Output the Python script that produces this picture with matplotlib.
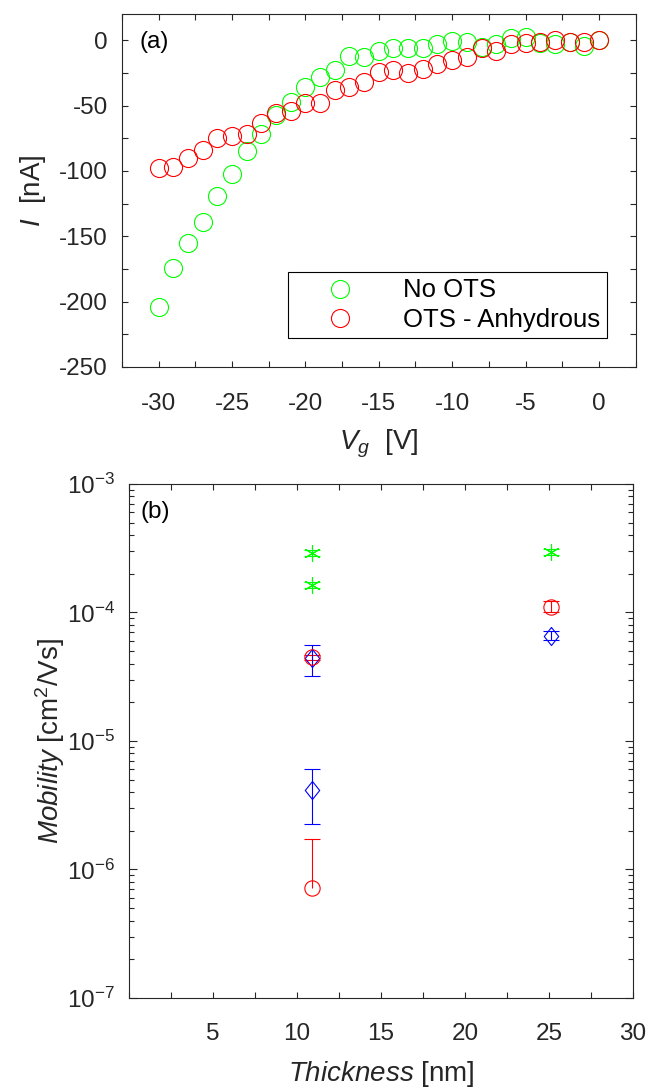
import numpy as np
import matplotlib.pyplot as plt
from matplotlib.ticker import MultipleLocator, FuncFormatter, LogLocator, NullFormatter

plt.rcParams['font.family'] = ['Liberation Sans', 'DejaVu Sans']
plt.rcParams['mathtext.fontset'] = 'custom'
plt.rcParams['mathtext.rm'] = 'Liberation Sans'
plt.rcParams['mathtext.it'] = 'Liberation Sans:italic'
plt.rcParams['axes.unicode_minus'] = False

# ---- data, panel (a) ----
vg = np.arange(-30, 1, 1)
i_no_ots = [-204, -174, -155, -139, -119, -102, -85, -72, -57, -47, -36, -28, -23, -12, -13,
            -8, -6, -6, -6, -3, -0.5, -1, -5, -2.5, 2, 2.5, -2, -2.5, -1, -4, 0]
i_ots_anh = [-98, -97, -90, -84, -75, -73, -72, -63, -56, -54, -48, -48, -38, -36, -32,
             -24, -23, -25, -22, -18, -15, -13, -6, -8, -3, -2, -1, 0.5, -1, -1, 0]

# ---- data, panel (b) ----
thick_green = [10.9, 10.9, 25.1]
mob_green = [2.89e-4, 1.64e-4, 2.94e-4]
err_green = [1.5e-5, 1.0e-5, 1.5e-5]

thick_red = [10.9, 10.9, 25.1]
mob_red = [4.48e-5, 7.15e-7, 1.11e-4]
err_red_lo = [2e-6, 0, 1.1e-5]
err_red_hi = [2e-6, 1.0e-6, 1.1e-5]

thick_blue = [10.9, 10.9, 25.1]
mob_blue = [4.4e-5, 4.16e-6, 6.6e-5]
err_blue = [1.2e-5, 1.9e-6, 5.5e-6]

grey = '#262626'
fs = 17.5     # tick labels
lfs = 20      # axis labels

fig = plt.figure(figsize=(6.48, 10.89), dpi=100)

# ---------------- panel (a) ----------------
ax1 = fig.add_axes([0.188, 0.663, 0.793, 0.324])
ax1.plot(vg, i_no_ots, 'o', mfc='none', mec='#00ff00', ms=13, mew=0.8, label='No OTS')
ax1.plot(vg, i_ots_anh, 'o', mfc='none', mec='#ff0000', ms=13, mew=0.8, label='OTS - Anhydrous')
ax1.set_xlim(-32.5, 2.5)
ax1.set_ylim(-250, 20)
ax1.xaxis.set_major_locator(MultipleLocator(2.5))
ax1.yaxis.set_major_locator(MultipleLocator(25))
ax1.xaxis.set_major_formatter(FuncFormatter(lambda v, p: '%d' % v if abs(v % 5) < 1e-6 else ''))
ax1.yaxis.set_major_formatter(FuncFormatter(lambda v, p: '%d' % v if abs(v % 50) < 1e-6 else ''))
ax1.tick_params(direction='in', length=4, width=0.8, top=True, right=True,
                labelsize=fs, colors=grey, pad=10)
ax1.tick_params(axis='x', pad=19)
ax1.set_xlabel(r'$V_g$  [V]', fontsize=lfs, color=grey, labelpad=9)
ax1.set_ylabel(r'$I$  [nA]', fontsize=lfs, color=grey, labelpad=8)
for s in ax1.spines.values():
    s.set_color(grey)
    s.set_linewidth(0.8)
ax1.text(0.035, 0.92, '(a)', transform=ax1.transAxes, fontsize=fs, va='center', ha='left')
leg = ax1.legend(loc='lower right', bbox_to_anchor=(0.9436, 0.082), borderaxespad=0,
                 fontsize=18.5, handlelength=3.6, handletextpad=0.65, labelspacing=0.2,
                 fancybox=False, framealpha=1, edgecolor='black', borderpad=0.25)
leg.get_frame().set_linewidth(0.8)

# ---------------- panel (b) ----------------
ax2 = fig.add_axes([0.199, 0.0836, 0.778, 0.472])
ax2.set_yscale('log')
ax2.errorbar(thick_green, mob_green, yerr=err_green, fmt='none', ecolor='#00ff00',
             elinewidth=0.8, capsize=6, capthick=0.8)
ax2.plot(thick_green, mob_green, ls='none', marker=(6, 2, 0), ms=12, mec='#00ff00', mew=0.8)

eb = ax2.errorbar(thick_red, mob_red, yerr=[err_red_lo, err_red_hi], fmt='o', mfc='none',
                  mec='#ff0000', ms=11, mew=0.8, ecolor='#ff0000', elinewidth=0.8,
                  capsize=6, capthick=0.8)
# hide the lower cap where there is no lower error
lo_cap = eb[1][0]
yd = np.array(lo_cap.get_ydata(), dtype=float)
yd[np.array(err_red_lo) == 0] = np.nan
lo_cap.set_ydata(yd)

diamond = [(0, 1), (0.8, 0), (0, -1), (-0.8, 0), (0, 1)]
ax2.errorbar(thick_blue, mob_blue, yerr=err_blue, fmt='none', ecolor='#0000ff',
             elinewidth=0.8, capsize=6, capthick=0.8)
ax2.plot(thick_blue, mob_blue, ls='none', marker=diamond, mfc='none', mec='#0000ff',
         ms=13, mew=0.8)

ax2.set_xlim(0, 30)
ax2.set_ylim(1e-7, 1e-3)
ax2.xaxis.set_major_locator(MultipleLocator(2.5))
ax2.xaxis.set_major_formatter(FuncFormatter(lambda v, p: '%d' % v if (abs(v % 5) < 1e-6 and v > 0) else ''))
ax2.yaxis.set_major_locator(LogLocator(base=10, numticks=10))
ax2.yaxis.set_minor_locator(LogLocator(base=10, subs=np.arange(2, 10), numticks=10))
ax2.yaxis.set_minor_formatter(NullFormatter())
ax2.tick_params(which='major', direction='in', length=6, width=0.8, top=True, right=True,
                labelsize=fs, colors=grey, pad=10)
ax2.tick_params(axis='x', which='major', length=4, pad=18)
ax2.tick_params(which='minor', direction='in', length=3.5, width=0.8, top=True, right=True,
                colors=grey)
ax2.set_xlabel(r'$\mathit{Thickness}$ [nm]', fontsize=lfs, color=grey, labelpad=10)
ax2.set_ylabel(r'$\mathit{Mobility}$ [cm$^2$/Vs]', fontsize=lfs, color=grey, labelpad=0)
for s in ax2.spines.values():
    s.set_color(grey)
    s.set_linewidth(0.8)
ax2.text(0.022, 0.945, '(b)', transform=ax2.transAxes, fontsize=fs, va='center', ha='left')

fig.savefig('out.png', dpi=100)
